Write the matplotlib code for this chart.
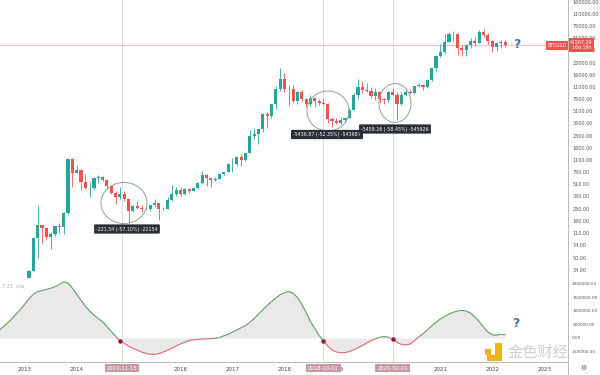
import matplotlib
matplotlib.use("Agg")
import matplotlib.pyplot as plt
import matplotlib.transforms as mtransforms
import numpy as np
import pandas as pd
from matplotlib.collections import LineCollection
from matplotlib.lines import Line2D
from matplotlib.patches import Ellipse, Rectangle
from matplotlib.ticker import NullLocator

# monthly BTCUSD candles, Jan 2013 .. Apr 2022
months = pd.date_range("2013-01-01", "2022-04-01", freq="MS")
opens = [
    13.5, 20.4, 33.4, 93, 139, 129, 97, 106, 135, 133, 204, 1130,
    732, 800, 550, 445, 445, 628, 640, 586, 478, 386, 338, 378,
    320, 217, 254, 244, 236, 230, 263, 284, 230, 236, 314, 377,
    430, 368, 437, 416, 448, 531, 673, 624, 574, 608, 698, 742,
    963, 970, 1190, 1080, 1348, 2300, 2480, 2875, 4703, 4338, 6468, 10233,
    13850, 10265, 10326, 6923, 9246, 7500, 6390, 7730, 7030, 6626, 6370, 4017,
    3742, 3457, 3854, 4105, 5350, 8574, 10817, 10085, 9630, 8293, 9199, 7569,
    7194, 9350, 8543, 6410, 8624, 9455, 9138, 11351, 11655, 10779, 13804, 19700,
    28990, 33114, 45137, 58740, 57720, 37332, 35040, 41626, 47130, 43824, 61318, 57005,
    46306, 38483, 43193, 45538,
]
highs = [
    20.4, 33.8, 95, 266, 140, 130, 111, 135, 150, 215, 1163, 1150,
    940, 830, 700, 540, 630, 680, 660, 600, 495, 415, 460, 410,
    320, 265, 300, 262, 247, 268, 318, 285, 245, 335, 500, 465,
    460, 445, 440, 466, 550, 775, 705, 625, 630, 720, 752, 980,
    1150, 1200, 1300, 1350, 2790, 2980, 2900, 4760, 5000, 6470, 11400, 19666,
    17200, 11800, 11700, 9750, 9960, 7760, 8500, 7760, 7400, 7700, 6600, 4260,
    4100, 4200, 4140, 5640, 9080, 13880, 13150, 12330, 10960, 10540, 9510, 7750,
    9590, 10500, 9190, 9460, 10070, 10400, 11450, 12480, 12070, 14100, 19700, 29300,
    41950, 58350, 61780, 64900, 59600, 41300, 42400, 50500, 52950, 67000, 69000, 59100,
    47990, 45850, 48200, 47450,
]
lows = [
    13.2, 19.5, 33, 50, 79, 88, 65, 100, 108, 105, 200, 460,
    730, 420, 440, 340, 420, 525, 565, 440, 370, 275, 320, 300,
    152, 210, 236, 214, 225, 220, 251, 162, 225, 235, 300, 352,
    355, 365, 390, 412, 435, 516, 480, 465, 569, 603, 680, 741,
    750, 915, 890, 1060, 1360, 2140, 1830, 2650, 2980, 4110, 5500, 9500,
    9200, 6000, 6600, 6430, 7090, 5760, 6070, 5880, 6130, 6200, 3560, 3120,
    3350, 3380, 3670, 4070, 5350, 7450, 9070, 9350, 7740, 7300, 6520, 6430,
    6870, 8450, 3850, 6150, 8110, 8900, 8900, 10990, 9850, 10530, 13200, 17600,
    28130, 32300, 45000, 47000, 30000, 28800, 29300, 37330, 39600, 43300, 53300, 42000,
    32950, 34300, 37200, 39200,
]
closes = [
    20.4, 33.4, 93, 139, 129, 97, 106, 135, 133, 204, 1130, 732,
    800, 550, 445, 445, 628, 640, 586, 478, 386, 338, 378, 320,
    217, 254, 244, 236, 230, 263, 284, 230, 236, 314, 377, 430,
    368, 437, 416, 448, 531, 673, 624, 574, 608, 698, 742, 963,
    970, 1190, 1080, 1348, 2300, 2480, 2875, 4703, 4338, 6468, 10233, 13850,
    10265, 10326, 6923, 9246, 7500, 6390, 7730, 7030, 6626, 6370, 4017, 3742,
    3457, 3854, 4105, 5350, 8574, 10817, 10085, 9630, 8293, 9199, 7569, 7194,
    9350, 8543, 6410, 8624, 9455, 9138, 11351, 11655, 10779, 13804, 19700, 28990,
    33114, 45137, 58740, 57720, 37332, 35040, 41626, 47130, 43824, 61318, 57005, 46306,
    38483, 43193, 45538, 41507.29,
]
last_price = 41507.29

# oscillator, Jul 2012 .. Apr 2022 (millions)
osc_months = pd.date_range("2012-07-01", "2022-04-01", freq="MS")
osc_millions = [
    0.28, 0.40, 0.55, 0.70, 0.88, 1.05,
    1.25, 1.45, 1.62, 1.72, 1.76, 1.80, 1.84, 1.90, 1.98, 2.08, 2.04, 1.85,
    1.62, 1.40, 1.18, 1.00, 0.85, 0.72, 0.60, 0.42, 0.24, 0.06, -0.10, -0.20,
    -0.30, -0.38, -0.45, -0.52, -0.57, -0.60, -0.61, -0.58, -0.52, -0.45, -0.38, -0.30,
    -0.22, -0.15, -0.10, -0.07, -0.05, -0.04, -0.03, -0.02, -0.01, 0.02, 0.08, 0.14,
    0.22, 0.30, 0.38, 0.46, 0.58, 0.72, 0.88, 1.05, 1.20, 1.35, 1.48, 1.60,
    1.68, 1.72, 1.66, 1.50, 1.25, 0.95, 0.62, 0.35, 0.10, -0.10, -0.30, -0.45,
    -0.52, -0.55, -0.54, -0.50, -0.44, -0.36, -0.28, -0.18, -0.10, -0.03, 0.03, 0.05,
    0.03, -0.04, -0.16, -0.24, -0.26, -0.22, -0.10, 0.04, 0.15, 0.30, 0.45, 0.58,
    0.70, 0.80, 0.88, 0.95, 1.00, 1.02, 1.00, 0.92, 0.78, 0.60, 0.40, 0.22,
    0.12, 0.10, 0.14, 0.14,
]

year_labels = [str(y) for y in range(2013, 2024)]
price_ticks = [34, 50, 74, 110, 160, 230, 350, 510, 750, 1100, 1600, 2300, 3500,
               5100, 7500, 11000, 16000, 23000, 35000, 51000, 75000, 110000, 160000]
osc_ticks = [2000000, 1500000, 1000000, 500000, 0, -500000]
marked_dates = ["2014-11-15", "2018-10-01", "2020-02-01"]
measure_texts = ["-221.54 (-57.10%) -22154",
                 "-5436.87 (-52.35%) -543687",
                 "-5459.26 (-58.45%) -545926"]

UP = "#26a69a"
DOWN = "#ef5350"
W, H = 600, 375


def month_idx(ts):
    ts = pd.Timestamp(ts)
    return (ts.year - 2013) * 12 + ts.month - 1 + (ts.day - 1) / 30.0


def fx(x):
    return x / W


def fy(y):
    return 1 - y / H


x = np.array([month_idx(m) for m in months])
o, hi, lo, c = map(np.asarray, (opens, highs, lows, closes))
colors = np.where(c >= o, UP, DOWN)

fig = plt.figure(figsize=(6, 3.75), dpi=100)
fig.patch.set_facecolor("white")
ax = fig.add_axes([0, fy(278), fx(568), 278 / H])
axo = fig.add_axes([0, fy(362), fx(568), 84 / H], sharex=ax)

# candles
ax.vlines(x, lo, hi, colors=colors, linewidth=0.6, zorder=3)
body_lo = np.minimum(o, c)
body_h = np.maximum(np.abs(c - o), body_lo * 0.012)
ax.bar(x, body_h, bottom=body_lo, width=0.72, color=colors, linewidth=0, zorder=4)
ax.set_yscale("log")
ax.set_ylim(26.4, 170000)
ax.set_xlim(-5.7, 125.5)
ax.axhline(last_price, color="#f6b0b0", linewidth=0.6, zorder=2)

ax.yaxis.tick_right()
ax.set_yticks(price_ticks)
ax.set_yticklabels([f"{v:.2f}" for v in price_ticks])
ax.yaxis.set_minor_locator(NullLocator())
ax.tick_params(axis="y", length=0, pad=3.5, labelsize=3.5, labelcolor="#555555")
ax.tick_params(axis="x", length=0, labelbottom=False)
for name, sp in ax.spines.items():
    sp.set_visible(name == "bottom")
ax.spines["bottom"].set_color("#d8d8d8")
ax.spines["bottom"].set_linewidth(0.7)

# oscillator
ox = np.array([month_idx(m) for m in osc_months])
ov = np.asarray(osc_millions) * 1e6
axo.fill_between(ox, ov, 0, color="#e9e9e9", linewidth=0, zorder=1)
pts = np.column_stack([ox, ov])
segs = np.stack([pts[:-1], pts[1:]], axis=1)
seg_cols = ["#5b9a5b" if (a + b) >= 0 else "#e06470" for a, b in zip(ov[:-1], ov[1:])]
axo.add_collection(LineCollection(segs, colors=seg_cols, linewidth=0.8, zorder=3))
cross = [i for i in range(1, len(ov)) if ov[i - 1] >= 0 > ov[i]]
axo.plot(ox[cross], ov[cross], "o", color="#8e1b2c", markersize=2.2, zorder=4)
axo.set_ylim(-0.889e6, 2.222e6)
axo.yaxis.tick_right()
axo.set_yticks(osc_ticks)
axo.set_yticklabels([f"{v:.2f}" for v in osc_ticks])
axo.tick_params(axis="y", length=0, pad=3, labelsize=3.1, labelcolor="#555555")
axo.set_xticks(np.arange(len(year_labels)) * 12)
axo.set_xticklabels(year_labels)
axo.tick_params(axis="x", length=0, pad=3.5, labelsize=4, labelcolor="#444444")
for name, sp in axo.spines.items():
    sp.set_visible(name == "bottom")
axo.spines["bottom"].set_color("#b8b8b8")
axo.spines["bottom"].set_linewidth(0.7)
axo.text(0.004, 0.9, "7.31  n/a", transform=axo.transAxes, fontsize=3.6,
         color="#aaaaaa", va="center")

# marked dates: vertical lines and date tags
tag_tr = mtransforms.blended_transform_factory(axo.transData, fig.transFigure)
for d in marked_dates:
    m = month_idx(d)
    ax.axvline(m, color="#e8d6d9", linewidth=0.7, zorder=1)
    axo.axvline(m, color="#e8d6d9", linewidth=0.7, zorder=2)
    fig.text(m, fy(368), d, transform=tag_tr, ha="center", va="center",
             fontsize=3.8, color="white", zorder=8,
             bbox=dict(boxstyle="square,pad=0.35", fc="#c79aa3", ec="none"))

# circled drawdowns
for cx, cy, w, h in [(124, 203, 46, 41), (328, 111, 42, 40), (395, 103, 32, 39)]:
    fig.add_artist(Ellipse((fx(cx), fy(cy)), w / W, h / H, transform=fig.transFigure,
                           fill=False, ec="#8ea68e", lw=0.7, zorder=5))

# measure labels
for (tx, ty), txt in zip([(127, 229), (327, 134.5), (395, 129)], measure_texts):
    fig.text(fx(tx), fy(ty), txt, ha="center", va="center", fontsize=3.4,
             color="white", zorder=6,
             bbox=dict(boxstyle="round,pad=0.45,rounding_size=0.2", fc="#2a2e39", ec="none"))

# question marks
ax.text(113.6, last_price, "?", fontsize=9, fontweight="bold", color="#3a78b5",
        ha="center", va="center")
axo.text(113.4, 0.55e6, "?", fontsize=9, fontweight="bold", color="#3a78b5",
         ha="center", va="center")

# right axis line
fig.add_artist(Line2D([fx(568), fx(568)], [0, 1], transform=fig.transFigure,
                      color="#b8b8b8", lw=0.7))

# price tags
fig.text(fx(557), fy(45.5), "BTCUSD", ha="center", va="center", fontsize=3.4,
         color="white", bbox=dict(boxstyle="square,pad=0.35", fc=DOWN, ec="none"))
fig.text(fx(581.5), fy(45), f"{last_price:.2f}\n16d 19h", ha="center", va="center",
         fontsize=3.4, color="white", linespacing=1.1,
         bbox=dict(boxstyle="square,pad=0.3", fc=DOWN, ec="none"))

# gear icon
fig.text(fx(583), fy(368), "\u2699", ha="center", va="center", fontsize=5,
         color="#555555", family="DejaVu Sans")

# watermark
for rx, ry, rw, rh in [(485, 349, 6, 6), (495, 343, 7, 18), (487, 355, 15, 6)]:
    fig.add_artist(Rectangle((fx(rx), fy(ry + rh)), rw / W, rh / H,
                             transform=fig.transFigure, fc="#f2b21c", ec="none",
                             zorder=7))
fig.text(fx(538), fy(352), "金色财经", ha="center", va="center", fontsize=11,
         color="#cfcfcf", family=["Noto Sans CJK SC", "DejaVu Sans"], zorder=7)

fig.savefig("out.png", dpi=100)
